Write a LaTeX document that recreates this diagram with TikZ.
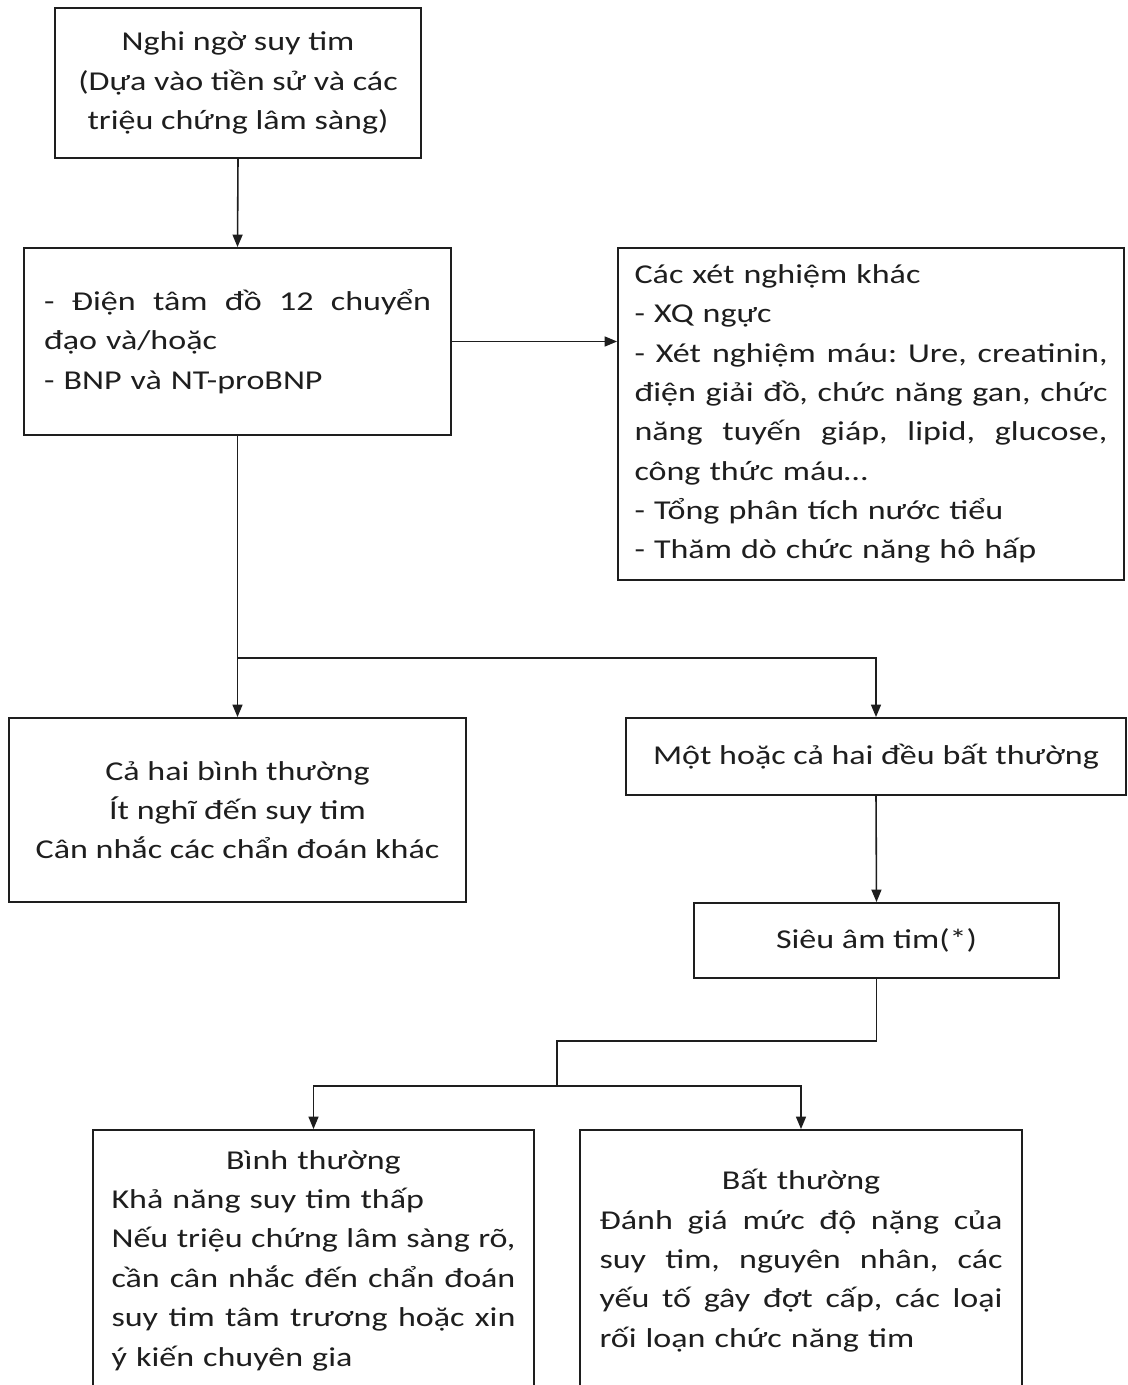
\documentclass[tikz,border=0pt]{standalone}
\usepackage{fontspec}
\setmainfont{Carlito}[FakeStretch=1.25]
\usetikzlibrary{positioning,arrows.meta}
\definecolor{hfink}{HTML}{1E1E1E}
\tikzset{
  box/.style  ={draw=hfink, line width=1.1pt, inner sep=0pt, text=hfink,
                font=\fontsize{15.5}{22.4}\selectfont\frenchspacing},
  cbox/.style ={box, align=center},
  lbox/.style ={box, align=left},
  arr/.style  ={-{Triangle[length=2.5mm,width=2mm]}, draw=hfink, line width=0.9pt},
  link/.style ={draw=hfink, line width=0.9pt},
}
% one line spread to the given width
\newcommand{\jl}[2]{\makebox[#1][s]{\spaceskip=\fontdimen2\font plus 1fil\relax #2}}
\newcommand{\ml}[2]{\makebox[#1][c]{#2}}

\begin{document}
\begin{tikzpicture}[x=0.02cm,y=-0.02cm]
  \useasboundingbox (0,0) rectangle (1127,1385);
  \clip (0,0) rectangle (1127,1385);
  \fill[white] (0,0) rectangle (1127,1385);
  % boxes
  \node[cbox, minimum width=7.32cm, minimum height=3cm] (susp) at (238,83)
    {Nghi ngờ suy tim\\(Dựa vào tiền sử và các\\triệu chứng lâm sàng)};
  \node[lbox, minimum width=8.54cm, minimum height=3.74cm, text width=7.74cm] (ecg) at (237.5,341.5)
    {\jl{7.74cm}{- Điện tâm đồ 12 chuyển}\\đạo và/hoặc\\- BNP và NT-proBNP};
  \node[lbox, minimum width=10.12cm, minimum height=6.64cm, text width=9.46cm] (other) at (871,414)
    {Các xét nghiệm khác\\- XQ ngực\\\jl{9.46cm}{- Xét nghiệm máu: Ure, creatinin,}\\
     \jl{9.46cm}{điện giải đồ, chức năng gan, chức}\\\jl{9.46cm}{năng tuyến giáp, lipid, glucose,}\\
     công thức máu…\\- Tổng phân tích nước tiểu\\- Thăm dò chức năng hô hấp};
  \node[cbox, minimum width=9.14cm, minimum height=3.68cm] (bothok) at (237.5,810)
    {Cả hai bình thường\\Ít nghĩ đến suy tim\\Cân nhắc các chẩn đoán khác};
  \node[cbox, minimum width=10cm, minimum height=1.54cm] (abn) at (876,756.5)
    {Một hoặc cả hai đều bất thường};
  \node[cbox, minimum width=7.3cm, minimum height=1.5cm] (echo) at (876.5,940.5)
    {Siêu âm tim(*)};
  \node[lbox, minimum width=8.82cm, minimum height=5.22cm, text width=8.08cm] (echook) at (313.5,1260.5)
    {\ml{8.08cm}{Bình thường}\\Khả năng suy tim thấp\\\jl{8.08cm}{Nếu triệu chứng lâm sàng rõ,}\\
     \jl{8.08cm}{cần cân nhắc đến chẩn đoán}\\\jl{8.08cm}{suy tim tâm trương hoặc xin}\\ý kiến chuyên gia};
  \node[lbox, minimum width=8.84cm, minimum height=5.22cm, text width=8.06cm] (echobad) at (801,1260.5)
    {\ml{8.06cm}{Bất thường}\\\jl{8.06cm}{Đánh giá mức độ nặng của}\\\jl{8.06cm}{suy tim, nguyên nhân, các}\\
     \jl{8.06cm}{yếu tố gây đợt cấp, các loại}\\rối loạn chức năng tim};
  % junctions
  \coordinate (split1) at (237.5,658);
  \coordinate (bend2) at (557,1041);
  \coordinate (split2) at (557,1086);
  % connectors
  \draw[arr] (susp.south) -- (ecg.north);
  \draw[arr] (ecg.east) -- (ecg.east -| other.west);
  \draw[link] (ecg.south) -- (split1);
  \draw[arr] (split1) -- (bothok.north);
  \draw[arr] (split1) -| (abn.north);
  \draw[arr] (abn.south) -- (echo.north);
  \draw[link] (echo.south) |- (bend2) -- (split2);
  \draw[arr] (split2) -| (echook.north);
  \draw[arr] (split2) -| (echobad.north);
\end{tikzpicture}
\end{document}
